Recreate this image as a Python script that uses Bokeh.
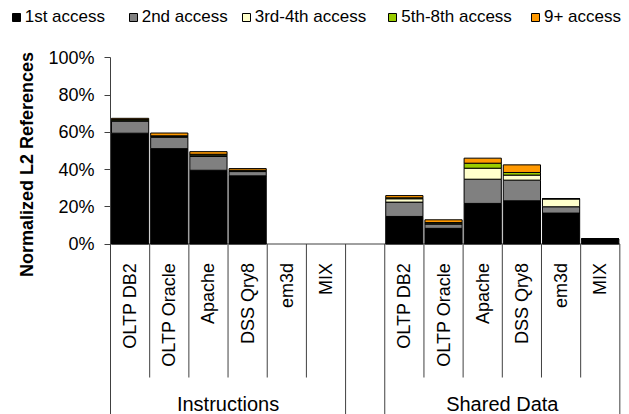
import numpy as np
from bokeh.plotting import figure
from bokeh.models import (Range1d, LinearAxis, FixedTicker, PrintfTickFormatter,
                          Legend, LegendItem, ColumnDataSource)
from bokeh.embed import file_html
from bokeh.resources import INLINE
from bokeh.core.properties import value

# ---------------- data ----------------
benchmarks = ["OLTP DB2", "OLTP Oracle", "Apache", "DSS Qry8", "em3d", "MIX"]
groups = ["Instructions", "Shared Data"]
series_names = ["1st access", "2nd access", "3rd-4th access", "5th-8th access", "9+ access"]
series_colors = ["#000000", "#808080", "#FFFFCC", "#99CC00", "#FF9900"]

# percent of L2 references, Instructions
instr_1st = [59.5, 51.2, 39.6, 36.6, 0.0, 0.0]
instr_2nd = [6.5, 6.1, 7.4, 2.3, 0.0, 0.0]
instr_3to4 = [0.5, 0.5, 0.7, 0.4, 0.0, 0.0]
instr_5to8 = [0.3, 0.3, 0.5, 0.3, 0.0, 0.0]
instr_9plus = [0.7, 1.5, 1.4, 0.9, 0.0, 0.0]

# percent of L2 references, Shared Data
data_1st = [14.8, 8.4, 21.8, 23.2, 16.6, 2.7]
data_2nd = [7.7, 2.3, 13.0, 11.1, 3.4, 0.0]
data_3to4 = [1.8, 0.5, 5.9, 2.7, 4.3, 0.0]
data_5to8 = [0.5, 0.3, 2.7, 1.4, 0.0, 0.0]
data_9plus = [1.2, 1.5, 2.7, 4.1, 0.0, 0.0]

y_ticks = [0, 20, 40, 60, 80, 100]

# ---------------- layout constants (pixels) ----------------
W, H = 629, 414
LEFT_PX = 110.0          # pixel of the y axis
SLOT_PX = 39.18          # width of one category slot
ZERO_PX = 243.5          # pixel row of 0%
PX_PER_PCT = 1.862       # pixels per percent
N_SLOTS = len(groups) * (len(benchmarks) + 1) - 1
GROUP_STRIDE = len(benchmarks) + 1

def px_x(px):
    return (px - LEFT_PX) / SLOT_PX

def px_y(py):
    return (ZERO_PX - py) / PX_PER_PCT

x_range = Range1d(px_x(0), px_x(W))
y_range = Range1d(px_y(H), px_y(0))

FONT = value("Liberation Sans")
LINE_C = "#404040"

p = figure(width=W, height=H, x_range=x_range, y_range=y_range,
           x_axis_type=None, y_axis_type=None, toolbar_location=None,
           output_backend="svg", min_border=0, min_border_left=0,
           min_border_right=0, min_border_top=0, min_border_bottom=0)
p.outline_line_color = None
p.background_fill_color = "white"
p.border_fill_color = "white"

# ---------------- bars ----------------
keys = ["s0", "s1", "s2", "s3", "s4"]
instr_series = [instr_1st, instr_2nd, instr_3to4, instr_5to8, instr_9plus]
data_series = [data_1st, data_2nd, data_3to4, data_5to8, data_9plus]
xs = [g * GROUP_STRIDE + i + 0.5 for g in range(len(groups)) for i in range(len(benchmarks))]
cols = {k: list(a) + list(b) for k, a, b in zip(keys, instr_series, data_series)}
totals = np.sum([cols[k] for k in keys], axis=0)
keep = [i for i in range(len(xs)) if totals[i] > 0]   # empty bars are not drawn
src = {"x": [xs[i] for i in keep]}
for k in keys:
    src[k] = [cols[k][i] for i in keep]
source = ColumnDataSource(src)

# separators and category axis line
short_x, long_x = [], []
for g in range(len(groups)):
    start = g * GROUP_STRIDE
    long_x += [start, start + len(benchmarks)]
    short_x += [start + i for i in range(1, len(benchmarks))]
p.segment(x0=[0], y0=[0], x1=[N_SLOTS], y1=[0], line_color=LINE_C, line_width=1)
p.segment(x0=short_x, y0=[0] * len(short_x), x1=short_x,
          y1=[px_y(377)] * len(short_x), line_color=LINE_C, line_width=1)
p.segment(x0=long_x, y0=[0] * len(long_x), x1=long_x,
          y1=[px_y(H)] * len(long_x), line_color=LINE_C, line_width=1)

renderers = p.vbar_stack(keys, x="x", width=0.95, source=source,
                         fill_color=series_colors, line_color="black", line_width=1)

# category labels (rotated)
cat_labels = [b for g in groups for b in benchmarks]
p.text(x=xs, y=[px_y(262.5)] * len(xs), text=cat_labels, angle=np.pi / 2,
       text_align="right", text_baseline="middle", text_font=FONT,
       text_font_size="18px", text_color="black")

# group labels
gx = [g * GROUP_STRIDE + len(benchmarks) / 2 for g in range(len(groups))]
p.text(x=gx, y=[px_y(403.5)] * len(gx), text=groups, text_align="center",
       text_baseline="middle", text_font=FONT, text_font_size="20px",
       text_color="black")

# y-axis title
p.text(x=[px_x(26)], y=[px_y(51.5)], text=["Normalized L2 References"],
       angle=np.pi / 2, text_align="right", text_baseline="middle",
       text_font=FONT, text_font_style="bold", text_font_size="18px",
       text_color="black")

# ---------------- y axis ----------------
yaxis = LinearAxis(fixed_location=0, bounds=(0, 100),
                   ticker=FixedTicker(ticks=y_ticks),
                   formatter=PrintfTickFormatter(format="%d%%"),
                   major_tick_out=6, major_tick_in=0,
                   minor_tick_out=0, minor_tick_in=0,
                   major_label_standoff=10,
                   major_label_text_font_size="18px",
                   major_label_text_font="Liberation Sans",
                   major_label_text_color="black",
                   axis_line_color=LINE_C, major_tick_line_color=LINE_C)
p.add_layout(yaxis, "left")

# ---------------- legend ----------------
legend_x = [10.7, 127.7, 240.7, 387.3, 530.0]
legend_center_y = 17.0
for name, r, lx in zip(series_names, renderers, legend_x):
    leg = Legend(items=[LegendItem(label=name, renderers=[r])],
                 location=(lx, H - legend_center_y - 10),
                 orientation="horizontal", padding=0, margin=0, spacing=0,
                 glyph_width=10, glyph_height=10, label_standoff=4,
                 label_height=20, label_text_font="Liberation Sans",
                 label_text_font_size="17px", label_text_color="black",
                 border_line_color=None, background_fill_alpha=0)
    p.add_layout(leg)

open("out.html", "w").write(file_html(p, INLINE))
